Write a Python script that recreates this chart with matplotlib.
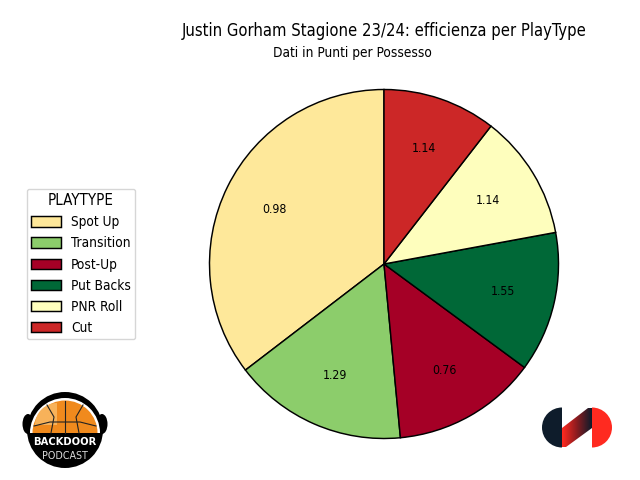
import matplotlib
matplotlib.use('Agg')
import matplotlib.pyplot as plt
import matplotlib.patches as mpatches
from matplotlib.colors import LinearSegmentedColormap
from matplotlib.font_manager import FontProperties
import numpy as np

plt.rcParams['font.family'] = ['DejaVu Sans']

playtypes = ['Spot Up', 'Transition', 'Post-Up', 'Put Backs', 'PNR Roll', 'Cut']
possessions = [35.4, 16.1, 13.4, 13.0, 11.6, 10.5]
ppp = [0.98, 1.29, 0.76, 1.55, 1.14, 1.14]
colors = ['#fee89a', '#8ccd6b', '#a50026', '#006837', '#fefebd', '#cc2727']

fig = plt.figure(figsize=(6.4, 4.8), dpi=100)
ax = fig.add_axes([(384 - 174.5) / 640, (480 - 438.5) / 480, 349 / 640, 349 / 480])

wedges, _ = ax.pie(possessions, colors=colors, startangle=90, radius=1,
                   wedgeprops={'edgecolor': 'black', 'linewidth': 1.05})
ax.set_xlim(-1, 1)
ax.set_ylim(-1, 1)

# value labels sit in the middle of each wedge
for w, val in zip(wedges, ppp):
    ang = np.deg2rad((w.theta1 + w.theta2) / 2)
    ax.text(0.7 * np.cos(ang), 0.7 * np.sin(ang), '%.2f' % val,
            ha='center', va='center', fontsize=8.8, stretch='condensed')

fig.text(384 / 640, 1 - 31 / 480, 'Justin Gorham Stagione 23/24: efficienza per PlayType',
         ha='center', va='center', fontsize=11.9, stretch='condensed')
fig.text(352 / 640, 1 - 53 / 480, 'Dati in Punti per Possesso',
         ha='center', va='center', fontsize=9.8, stretch='condensed')

leg = fig.legend(wedges, playtypes, title='PLAYTYPE', loc='center',
                 bbox_to_anchor=(81 / 640, 1 - 264 / 480),
                 prop=FontProperties(size=9.8, stretch='condensed'),
                 title_fontproperties=FontProperties(size=10.8, stretch='condensed'),
                 frameon=True, labelspacing=0.52, handlelength=2.15, handleheight=0.8,
                 handletextpad=0.75, borderpad=0.35)
for h in leg.get_patches():
    h.set_linewidth(1.05)

# Backdoor Podcast logo
logo = fig.add_axes([0, 0, 1, 1], zorder=5)
logo.set_xlim(0, 640)
logo.set_ylim(480, 0)
logo.axis('off')
cx, cy = 65, 433
logo.add_patch(mpatches.Circle((cx, cy - 3), 38, fc='black', ec='none'))
logo.add_patch(mpatches.Ellipse((cx - 37, cy - 9), 11, 20, fc='black', ec='none'))
logo.add_patch(mpatches.Ellipse((cx + 37, cy - 9), 11, 20, fc='black', ec='none'))
logo.add_patch(mpatches.Wedge((cx, cy), 35, 180, 360, fc='white', ec='none'))
logo.add_patch(mpatches.Wedge((cx, cy), 32.5, 180, 360, fc='#f08a1d', ec='none'))
logo.add_patch(mpatches.Wedge((cx - 8, cy - 8), 22, 180, 270, fc='#f7b25a', ec='none'))
logo.plot([cx, cx], [cy - 32, cy], color='#222222', lw=0.8)
logo.plot([cx - 31, cx - 15, cx + 15, cx + 31], [cy - 7, cy - 11, cy - 11, cy - 7],
          color='#222222', lw=0.8)
logo.plot([cx - 18, cx - 11, cx - 14], [cy - 28, cy - 16, cy], color='#222222', lw=0.8)
logo.plot([cx + 18, cx + 11, cx + 14], [cy - 28, cy - 16, cy], color='#222222', lw=0.8)
logo.text(cx, cy + 9, 'BACKDOOR', color='white', fontsize=8, fontweight='bold',
          ha='center', va='center', stretch='condensed')
logo.text(cx, cy + 23, 'PODCAST', color='#dddddd', fontsize=7.7, ha='center', va='center',
          stretch='condensed')

# second logo
logo.add_patch(mpatches.Wedge((562, 427.5), 20, 90, 270, fc='#0e1c2b', ec='none'))
logo.add_patch(mpatches.Wedge((592, 427.5), 20, -90, 90, fc='#ff2a20', ec='none'))
grad = np.linspace(0, 1, 64).reshape(1, -1)
cmap = LinearSegmentedColormap.from_list('g', ['#ff2a20', '#8a1b1f', '#0e1c2b'])
im = logo.imshow(grad, extent=(562, 592, 447, 408), cmap=cmap, aspect='auto', zorder=2)
clip = mpatches.Polygon([(562, 428), (588, 408), (592, 408), (592, 428), (566, 447), (562, 447)],
                        transform=logo.transData)
im.set_clip_path(clip)
logo.set_xlim(0, 640)
logo.set_ylim(480, 0)

fig.savefig('out.png', dpi=100)
